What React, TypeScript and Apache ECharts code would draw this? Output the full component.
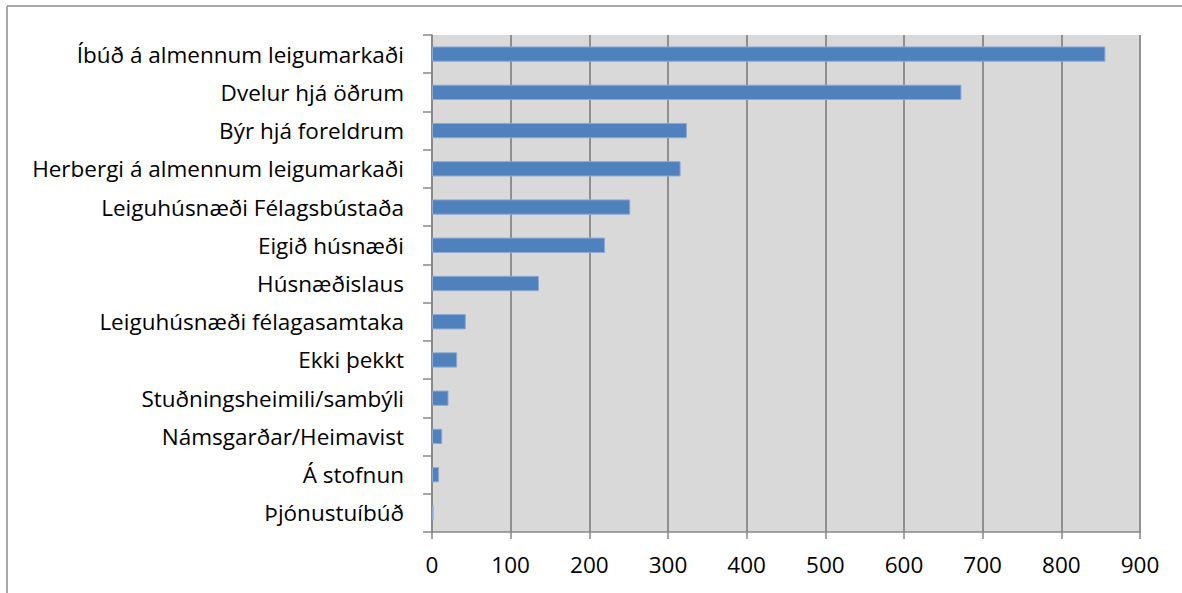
import React, { useEffect, useRef } from "react";
import * as echarts from "echarts";

const categories = [
  "Íbúð á almennum leigumarkaði",
  "Dvelur hjá öðrum",
  "Býr hjá foreldrum",
  "Herbergi á almennum leigumarkaði",
  "Leiguhúsnæði Félagsbústaða",
  "Eigið húsnæði",
  "Húsnæðislaus",
  "Leiguhúsnæði félagasamtaka",
  "Ekki þekkt",
  "Stuðningsheimili/sambýli",
  "Námsgarðar/Heimavist",
  "Á stofnun",
  "Þjónustuíbúð",
];
const values = [856, 673, 324, 316, 252, 220, 136, 43, 32, 21, 13, 9, 2];
const xTicks = [0, 100, 200, 300, 400, 500, 600, 700, 800, 900];

const FONT = "'Open Sans', sans-serif";

export default function App() {
  const ref = useRef<HTMLDivElement>(null);
  useEffect(() => {
    document.body.style.margin = "0";
    const chart = echarts.init(ref.current!, null, { renderer: "svg" });
    chart.setOption({
      animation: false,
      backgroundColor: "#ffffff",
      grid: { left: 432, top: 35, right: 42, bottom: 61, show: true, backgroundColor: "#D9D9D9", borderWidth: 0 },
      xAxis: {
        type: "value",
        min: xTicks[0],
        max: xTicks[xTicks.length - 1],
        interval: 100,
        axisLine: { show: true, lineStyle: { color: "#878787", width: 1.5 } },
        axisTick: { show: true, length: 7, lineStyle: { color: "#878787", width: 1.5 } },
        splitLine: { show: true, lineStyle: { color: "#878787", width: 1.8 } },
        axisLabel: { color: "#000", fontFamily: FONT, fontSize: 22.5, margin: 21 },
      },
      yAxis: {
        type: "category",
        inverse: true,
        data: categories,
        axisLine: { show: true, lineStyle: { color: "#878787", width: 1.5 } },
        axisTick: { show: true, length: 9, lineStyle: { color: "#878787", width: 1.5 } },
        axisLabel: { color: "#000", fontFamily: FONT, fontSize: 22.5, margin: 28 },
      },
      series: [
        {
          type: "bar",
          data: values,
          barCategoryGap: "60%",
          itemStyle: { color: "#4F81BD", borderColor: "#8EA9D0", borderWidth: 1 },
        },
      ],
      graphic: [
        { type: "line", shape: { x1: 7, y1: 6, x2: 1182, y2: 6 }, style: { stroke: "#8C8C8C", lineWidth: 1.5 } },
        { type: "line", shape: { x1: 7, y1: 6, x2: 7, y2: 593 }, style: { stroke: "#8C8C8C", lineWidth: 1.5 } },
      ],
    });
    return () => chart.dispose();
  }, []);
  return <div ref={ref} style={{ position: "absolute", left: 0, top: 0, width: 1182, height: 593 }} />;
}
